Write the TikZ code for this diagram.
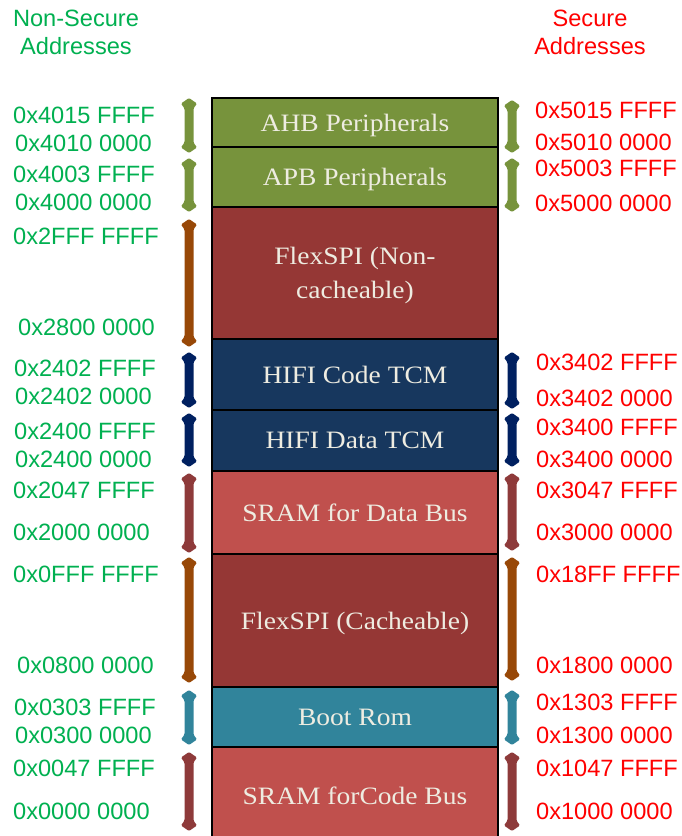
\documentclass[tikz,border=0pt]{standalone}
\usepackage{fontspec}
\newfontfamily\addrfont{Liberation Sans}
\newfontfamily\boxfont[FakeStretch=1.1]{Liberation Serif}
\definecolor{nsgreen}{HTML}{00B050}
\definecolor{sred}{HTML}{FF0000}
\definecolor{olivebox}{HTML}{77933C}
\definecolor{darkredbox}{HTML}{953735}
\definecolor{navybox}{HTML}{17375E}
\definecolor{pinkbox}{HTML}{C0504D}
\definecolor{tealbox}{HTML}{31849B}
\definecolor{boxtext}{HTML}{EEECE1}
\definecolor{brownarr}{HTML}{984807}
\definecolor{navyarr}{HTML}{002060}
\definecolor{redarr}{HTML}{8E3A3A}
\newcommand\memarrow[4]{%
  \fill[#4, rounded corners=1.2pt] (#1,#2) -- ({#1+8},{#2+5.5}) -- ({#1+4.5},{#2+10.5}) -- ({#1+4.5},{#3-10.5}) -- ({#1+8},{#3-5.5}) -- (#1,#3) -- ({#1-8},{#3-5.5}) -- ({#1-4.5},{#3-10.5}) -- ({#1-4.5},{#2+10.5}) -- ({#1-8},{#2+5.5}) -- cycle;}
\begin{document}
\begin{tikzpicture}[x=1pt,y=-1pt,
  memblock/.style={draw=black, line width=2.5pt, minimum width=286pt, anchor=north west,
    inner sep=0pt, outer sep=0pt, text=boxtext, text depth=0pt, font=\boxfont\fontsize{25}{34}\selectfont, align=center},
  nsaddr/.style={anchor=west, inner sep=0pt, text height=16.5pt, text depth=0pt, text=nsgreen,
    font=\addrfont\fontsize{23.6}{27}\selectfont},
  saddr/.style={nsaddr, text=sred},
  head/.style={inner sep=0pt, align=center, font=\addrfont\fontsize{23.6}{28}\selectfont}]
\useasboundingbox (0,0) rectangle (681,836);
\begin{scope}
\clip (0,0) rectangle (681,836);
% headers
\node[head, text=nsgreen] (nshead) at (76,32) {Non-Secure\\Addresses};
\node[head, text=sred] (shead) at (590,32) {Secure\\Addresses};
% memory blocks
\node[memblock, fill=olivebox, minimum height=49pt] (ahb) at (212,98) {AHB Peripherals};
\node[memblock, fill=olivebox, minimum height=60pt] (apb) at (212,147) {APB Peripherals};
\node[memblock, fill=darkredbox, minimum height=132pt] (fnc) at (212,207) {FlexSPI (Non-\\cacheable)};
\node[memblock, fill=navybox, minimum height=71pt] (hcode) at (212,339) {HIFI Code TCM};
\node[memblock, fill=navybox, minimum height=61pt] (hdata) at (212,410) {HIFI Data TCM};
\node[memblock, fill=pinkbox, minimum height=83pt] (sdata) at (212,471) {SRAM for Data Bus};
\node[memblock, fill=darkredbox, minimum height=133pt] (fc) at (212,554) {FlexSPI (Cacheable)};
\node[memblock, fill=tealbox, minimum height=60pt] (boot) at (212,687) {Boot Rom};
\node[memblock, fill=pinkbox, minimum height=98pt] (scode) at (212,747) {SRAM forCode Bus};
% left arrows
\memarrow{189}{98}{153}{olivebox}
\memarrow{189}{158}{212}{olivebox}
\memarrow{189}{219}{347}{brownarr}
\memarrow{189}{352}{408}{navyarr}
\memarrow{189}{413}{467}{navyarr}
\memarrow{189}{473}{553}{redarr}
\memarrow{189}{557}{683}{brownarr}
\memarrow{189}{690}{745}{tealbox}
\memarrow{189}{752}{831}{redarr}
% right arrows
\memarrow{512}{100}{153}{olivebox}
\memarrow{512}{158}{212}{olivebox}
\memarrow{512}{352}{409}{navyarr}
\memarrow{512}{413}{467}{navyarr}
\memarrow{512}{473}{551}{redarr}
\memarrow{512}{557}{681}{brownarr}
\memarrow{512}{690}{745}{tealbox}
\memarrow{512}{752}{831}{redarr}
% non-secure addresses
\node[nsaddr] (n1) at (13,115) {0x4015 FFFF};
\node[nsaddr] (n2) at (15,143.5) {0x4010 0000};
\node[nsaddr] (n3) at (13,174) {0x4003 FFFF};
\node[nsaddr] (n4) at (15,202.5) {0x4000 0000};
\node[nsaddr] (n5) at (13,236) {0x2FFF FFFF};
\node[nsaddr] (n6) at (18,327) {0x2800 0000};
\node[nsaddr] (n7) at (14,368) {0x2402 FFFF};
\node[nsaddr] (n8) at (15,396) {0x2402 0000};
\node[nsaddr] (n9) at (14,431) {0x2400 FFFF};
\node[nsaddr] (n10) at (15,459) {0x2400 0000};
\node[nsaddr] (n11) at (13,490) {0x2047 FFFF};
\node[nsaddr] (n12) at (13,532) {0x2000 0000};
\node[nsaddr] (n13) at (13,574) {0x0FFF FFFF};
\node[nsaddr] (n14) at (17,665) {0x0800 0000};
\node[nsaddr] (n15) at (14,707) {0x0303 FFFF};
\node[nsaddr] (n16) at (15,735.5) {0x0300 0000};
\node[nsaddr] (n17) at (13,768) {0x0047 FFFF};
\node[nsaddr] (n18) at (13,811.5) {0x0000 0000};
% secure addresses
\node[saddr] (s1) at (535,110) {0x5015 FFFF};
\node[saddr] (s2) at (535,142) {0x5010 0000};
\node[saddr] (s3) at (535,168.5) {0x5003 FFFF};
\node[saddr] (s4) at (535,203.5) {0x5000 0000};
\node[saddr] (s5) at (536,362) {0x3402 FFFF};
\node[saddr] (s6) at (536,398) {0x3402 0000};
\node[saddr] (s7) at (536,427) {0x3400 FFFF};
\node[saddr] (s8) at (536,459) {0x3400 0000};
\node[saddr] (s9) at (536,490) {0x3047 FFFF};
\node[saddr] (s10) at (536,532) {0x3000 0000};
\node[saddr] (s11) at (536,574) {0x18FF FFFF};
\node[saddr] (s12) at (536,665) {0x1800 0000};
\node[saddr] (s13) at (536,702) {0x1303 FFFF};
\node[saddr] (s14) at (536,735.5) {0x1300 0000};
\node[saddr] (s15) at (536,768) {0x1047 FFFF};
\node[saddr] (s16) at (536,811.5) {0x1000 0000};
\end{scope}
\end{tikzpicture}
\end{document}
